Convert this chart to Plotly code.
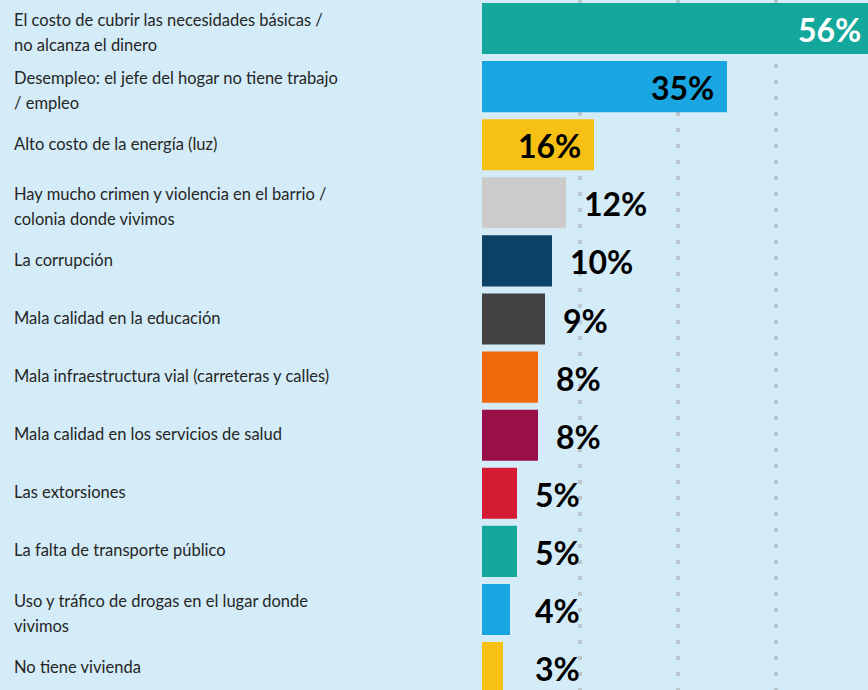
import plotly.graph_objects as go

categories = [
    "El costo de cubrir las necesidades básicas /<br>no alcanza el dinero",
    "Desempleo: el jefe del hogar no tiene trabajo<br>/ empleo",
    "Alto costo de la energía (luz)",
    "Hay mucho crimen y violencia en el barrio /<br>colonia donde vivimos",
    "La corrupción",
    "Mala calidad en la educación",
    "Mala infraestructura vial (carreteras y calles)",
    "Mala calidad en los servicios de salud",
    "Las extorsiones",
    "La falta de transporte público",
    "Uso y tráfico de drogas en el lugar donde<br>vivimos",
    "No tiene vivienda",
]
values = [56, 35, 16, 12, 10, 9, 8, 8, 5, 5, 4, 3]
colors = ["#14a79c", "#1aa6e2", "#f6c014", "#cbcbcb", "#0b4266", "#424242",
          "#f2690d", "#991049", "#d51b34", "#14a79c", "#1aa6e2", "#f6c014"]
label_colors = ["#ffffff", "#000000", "#000000"]  # inside labels
tick_vals = [0, 14, 28, 42, 56]

W, H = 868, 690
PLOT_LEFT = 482
PX_PER = 7.0
XMAX = (W - PLOT_LEFT) / PX_PER
ROW = 58.1
FIRST = 28.5
BG = "#d4ecf8"

fig = go.Figure()
fig.add_trace(go.Bar(
    x=values, y=categories, orientation="h",
    marker=dict(color=colors, line=dict(width=0)),
    width=0.88, hoverinfo="skip",
))

ann = []
for i, (c, v) in enumerate(zip(categories, values)):
    lines = c.split("<br>")
    n = len(lines)
    for j, ln in enumerate(lines):
        off = -1 if n == 1 else (-8.5 + 25 * j)
        ann.append(dict(
            xref="paper", yref="y", x=12 / W, y=c, xanchor="left", yanchor="middle",
            text=ln, showarrow=False, yshift=-off,
            font=dict(family="Lato", size=16.5, color="#262626"),
        ))
    if v >= 15:
        xv = min(v, XMAX)
        ann.append(dict(
            xref="x", yref="y", x=xv, y=c, xanchor="right", yanchor="middle",
            text=f"{v}%", showarrow=False,
            xshift=-11 + (v - xv) * PX_PER, yshift=-1,
            font=dict(family="Lato", size=32, color=label_colors[i], weight="bold"),
        ))
    else:
        ann.append(dict(
            xref="x", yref="y", x=max(v, 5), y=c, xanchor="left", yanchor="middle",
            text=f"{v}%", showarrow=False, xshift=16, yshift=-1,
            font=dict(family="Lato", size=32, color="#000000", weight="bold"),
        ))

fig.update_layout(
    width=W, height=H,
    margin=dict(l=0, r=0, t=0, b=0),
    paper_bgcolor=BG, plot_bgcolor=BG,
    showlegend=False,
    annotations=ann,
    xaxis=dict(
        domain=[PLOT_LEFT / W, 1], range=[0, XMAX],
        tickvals=tick_vals, showticklabels=False, ticks="",
        showgrid=True, gridcolor="#bcc6cd", gridwidth=4, griddash="4px,12px",
        zeroline=False, showline=False, fixedrange=True,
    ),
    yaxis=dict(
        type="category", categoryorder="array", categoryarray=categories,
        range=[(H - FIRST) / ROW, -FIRST / ROW],
        showticklabels=False, ticks="", showgrid=False, zeroline=False,
        showline=False, fixedrange=True,
    ),
)

fig.write_html(
    "out.html",
    config={"displayModeBar": False},
    post_script="document.body.style.margin='0';document.body.style.overflow='hidden';",
)
